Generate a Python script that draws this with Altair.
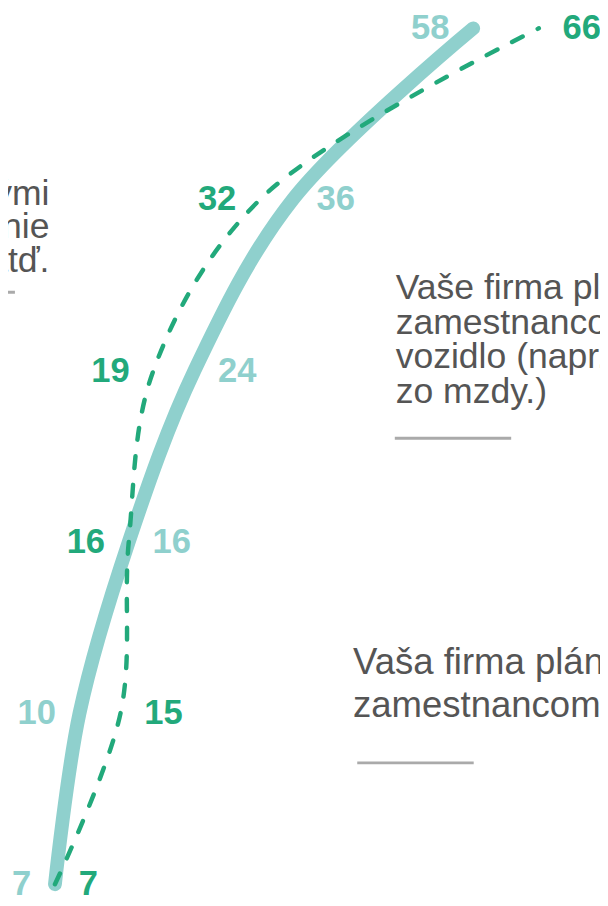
import altair as alt
import pandas as pd

# ---- data ----
levels = [0, 1, 2, 3, 4, 5]                 # vertical steps, bottom -> top
solid_values = [7, 10, 16, 24, 36, 58]      # thick light teal line
dashed_values = [7, 15, 16, 19, 32, 66]     # dashed green line
series_names = ["Skutočnosť", "Plán"]

# annotation texts (partly cut off by the picture edge)
note_left = ["Vaša firma podporuje zamestnancov s elektrickými",
             "vozidlami (napr. bezplatné nabíjanie",
             "parkovanie, príspevky atď."]
note_mid = ["Vaše firma plánuje ponúknuť",
            "zamestnancom elektrické služobné",
            "vozidlo (napr. s príspevkom",
            "zo mzdy.)"]
note_low = ["Vaša firma plánuje poskytnúť",
            "zamestnancom elektromobil"]

TEAL = "#8fd0cd"
GREEN = "#22a97b"
GREY_TEXT = "#555555"
GREY_RULE = "#aaaaaa"
FONT = "Liberation Sans"

# ---- tables ----
rows = []
for name, vals in zip(series_names, [solid_values, dashed_values]):
    for lv, v in zip(levels, vals):
        rows.append({"series": name, "level": lv, "value": v})
lines_df = pd.DataFrame(rows)

# label side: the line further right gets its label on the right;
# ties take the order of the step above
label_rows = []
n = len(levels)
for i in range(n):
    j = i
    while j < n - 1 and solid_values[j] == dashed_values[j]:
        j += 1
    solid_right = solid_values[j] > dashed_values[j]
    label_rows.append({"series": series_names[0], "level": levels[i],
                       "value": solid_values[i],
                       "side": "right" if solid_right else "left"})
    label_rows.append({"series": series_names[1], "level": levels[i],
                       "value": dashed_values[i],
                       "side": "left" if solid_right else "right"})
labels_df = pd.DataFrame(label_rows)

x_scale = alt.Scale(domain=[1.2753, 73.46], nice=False, zero=False)
y_scale = alt.Scale(domain=[-0.0922, 5.0836], nice=False, zero=False)
color_scale = alt.Scale(domain=series_names, range=[TEAL, GREEN])

X = alt.X("value:Q", scale=x_scale, axis=None)
Y = alt.Y("level:Q", scale=y_scale, axis=None)

solid_line = alt.Chart(lines_df).transform_filter(
    alt.datum.series == series_names[0]
).mark_line(interpolate="catmull-rom", strokeWidth=14, strokeCap="round",
            color=TEAL).encode(x=X, y=Y, order="level:Q")

dashed_line = alt.Chart(lines_df).transform_filter(
    alt.datum.series == series_names[1]
).mark_line(interpolate="catmull-rom", strokeWidth=4.5, strokeCap="round",
            strokeDash=[12, 17], color=GREEN).encode(x=X, y=Y, order="level:Q")

label_color = alt.Color("series:N", scale=color_scale, legend=None)

labels_left = alt.Chart(labels_df).transform_filter(
    alt.datum.side == "left"
).mark_text(align="right", baseline="middle", dx=-24, font=FONT,
            fontSize=35, fontWeight="bold").encode(
    x=X, y=Y, text="value:Q", color=label_color)

labels_right = alt.Chart(labels_df).transform_filter(
    alt.datum.side == "right"
).mark_text(align="left", baseline="middle", dx=24, font=FONT,
            fontSize=35, fontWeight="bold").encode(
    x=X, y=Y, text="value:Q", color=label_color)

# annotation anchors in data units
notes = [
    {"lines": note_left, "value": 6.33, "level": 3.97, "align": "right",
     "lh": 34, "fs": 36},
    {"lines": note_mid, "value": 48.55, "level": 3.418, "align": "left",
     "lh": 35, "fs": 36},
    {"lines": note_low, "value": 43.35, "level": 1.228, "align": "left",
     "lh": 44, "fs": 37},
]
note_layers = []
for nt in notes:
    df = pd.DataFrame([{"value": nt["value"], "level": nt["level"],
                        "txt": "\n".join(nt["lines"])}])
    note_layers.append(
        alt.Chart(df).mark_text(align=nt["align"], baseline="alphabetic",
                                lineBreak="\n", lineHeight=nt["lh"],
                                font=FONT, fontSize=nt["fs"],
                                color=GREY_TEXT)
        .encode(x=X, y=Y, text="txt:N")
    )

rules_df = pd.DataFrame([
    {"value": -12.08, "value2": 2.12, "level": 3.458},
    {"value": 48.44, "value2": 62.63, "level": 2.605},
    {"value": 43.86, "value2": 58.06, "level": 0.709},
])
rules = alt.Chart(rules_df).mark_rule(color=GREY_RULE, strokeWidth=3).encode(
    x=X, x2="value2:Q", y=Y)

chart = alt.layer(
    *note_layers, rules, solid_line, dashed_line, labels_left, labels_right
).properties(
    width=600, height=898,
    autosize=alt.AutoSizeParams(type="none"),
    padding=0,
).configure_view(stroke=None)

chart.save("out.html", embed_options={"renderer": "svg", "actions": False})
